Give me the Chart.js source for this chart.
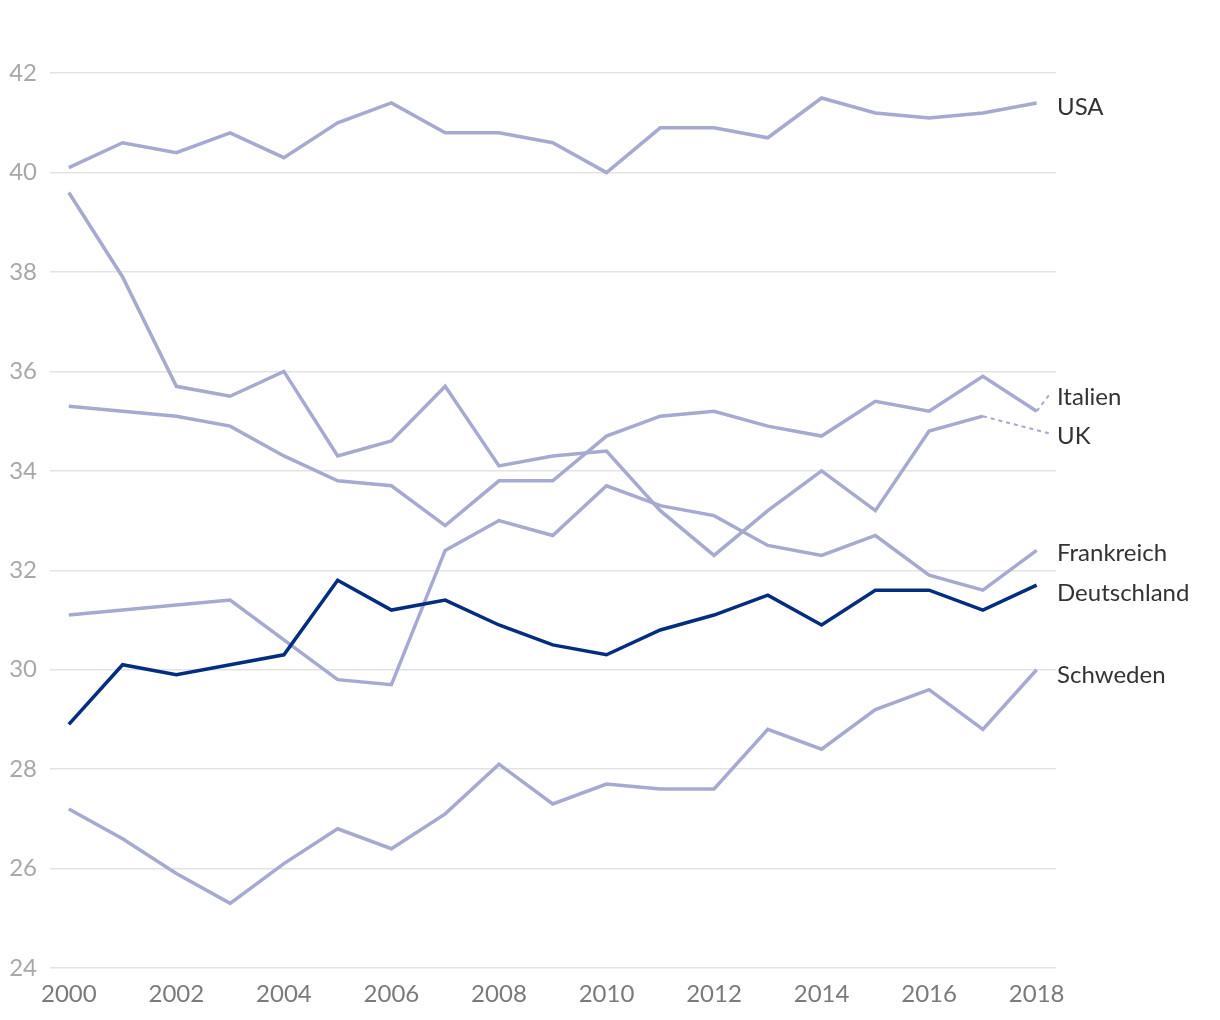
<!DOCTYPE html>
<html>
<head>
<meta charset="utf-8">
<script src="https://cdn.jsdelivr.net/npm/chart.js@4/dist/chart.umd.min.js"></script>
<style>
  html, body { margin: 0; padding: 0; background: #ffffff; }
  #wrap { width: 1220px; height: 1020px; position: relative; }
</style>
</head>
<body>
<div id="wrap"><canvas id="c" width="1220" height="1020"></canvas></div>
<script>
const years = [2000, 2001, 2002, 2003, 2004, 2005, 2006, 2007, 2008, 2009, 2010, 2011, 2012, 2013, 2014, 2015, 2016, 2017, 2018];
const xTicks = [2000, 2002, 2004, 2006, 2008, 2010, 2012, 2014, 2016, 2018];
const yTicks = [24, 26, 28, 30, 32, 34, 36, 38, 40, 42];

const deutschland = [28.9, 30.1, 29.9, 30.1, 30.3, 31.8, 31.2, 31.4, 30.9, 30.5, 30.3, 30.8, 31.1, 31.5, 30.9, 31.6, 31.6, 31.2, 31.7];
const usa         = [40.1, 40.6, 40.4, 40.8, 40.3, 41.0, 41.4, 40.8, 40.8, 40.6, 40.0, 40.9, 40.9, 40.7, 41.5, 41.2, 41.1, 41.2, 41.4];
const italien     = [35.3, 35.2, 35.1, 34.9, 34.3, 33.8, 33.7, 32.9, 33.8, 33.8, 34.7, 35.1, 35.2, 34.9, 34.7, 35.4, 35.2, 35.9, 35.2];
const uk          = [39.6, 37.9, 35.7, 35.5, 36.0, 34.3, 34.6, 35.7, 34.1, 34.3, 34.4, 33.2, 32.3, 33.2, 34.0, 33.2, 34.8, 35.1, null];
const frankreich  = [31.1, 31.2, 31.3, 31.4, 30.6, 29.8, 29.7, 32.4, 33.0, 32.7, 33.7, 33.3, 33.1, 32.5, 32.3, 32.7, 31.9, 31.6, 32.4];
const schweden    = [27.2, 26.6, 25.9, 25.3, 26.1, 26.8, 26.4, 27.1, 28.1, 27.3, 27.7, 27.6, 27.6, 28.8, 28.4, 29.2, 29.6, 28.8, 30.0];

const seriesNames = ['Deutschland', 'USA', 'Italien', 'UK', 'Frankreich', 'Schweden'];
const seriesValues = [deutschland, usa, italien, uk, frankreich, schweden];
// value at which each end label sits
const labelAnchors = [31.6, 41.38, 35.55, 34.75, 32.4, 29.95];
// which series get a dashed leader to their label
const leaderSeries = ['Italien', 'UK'];

const LIGHT = 'rgb(166,169,208)';
const DARK = 'rgb(3,46,128)';
const FONT = 'Lato, "DejaVu Sans", sans-serif';

const datasets = seriesNames.map((name, i) => ({
  label: name,
  data: years.map((y, j) => ({ x: y, y: seriesValues[i][j] })).filter(p => p.y !== null),
  borderColor: name === 'Deutschland' ? DARK : LIGHT,
  borderWidth: 3.5,
  pointRadius: 0,
  tension: 0,
  fill: false,
  order: name === 'Deutschland' ? 0 : 1
}));

const endLabels = {
  id: 'endLabels',
  afterDatasetsDraw(chart) {
    const ctx = chart.ctx;
    const xs = chart.scales.x, ys = chart.scales.y;
    const labelX = chart.chartArea.right + 1;
    ctx.save();
    seriesNames.forEach((name, i) => {
      const ay = ys.getPixelForValue(labelAnchors[i]);
      if (leaderSeries.includes(name)) {
        const vals = seriesValues[i];
        let k = vals.length - 1;
        while (vals[k] === null) k--;
        const px = xs.getPixelForValue(years[k]);
        const py = ys.getPixelForValue(vals[k]);
        ctx.beginPath();
        ctx.setLineDash([4, 4]);
        ctx.lineWidth = 2;
        ctx.strokeStyle = LIGHT;
        ctx.moveTo(px, py);
        ctx.lineTo(labelX - 7, ay);
        ctx.stroke();
        ctx.setLineDash([]);
      }
      ctx.fillStyle = '#333333';
      ctx.font = '24px ' + FONT;
      ctx.textAlign = 'left';
      ctx.textBaseline = 'middle';
      ctx.fillText(name, labelX, ay + 3);
    });
    ctx.restore();
  }
};

new Chart(document.getElementById('c'), {
  type: 'line',
  data: { datasets },
  options: {
    responsive: false,
    animation: false,
    events: [],
    layout: { padding: { top: 10, right: 164, left: 0, bottom: 0 } },
    plugins: { legend: { display: false }, tooltip: { enabled: false } },
    scales: {
      x: {
        type: 'linear',
        min: 1999.65,
        max: 2018.36,
        afterBuildTicks(scale) { scale.ticks = xTicks.map(v => ({ value: v })); },
        afterFit(scale) { scale.height = 52; },
        grid: { display: false, drawTicks: false },
        border: { display: false },
        ticks: {
          padding: 12,
          color: '#7a7a7a',
          font: { family: FONT, size: 24 },
          maxRotation: 0,
          autoSkip: false,
          callback: v => String(v)
        }
      },
      y: {
        min: 24,
        max: 42.92,
        afterBuildTicks(scale) { scale.ticks = yTicks.map(v => ({ value: v })); },
        afterFit(scale) { scale.width = 50; },
        grid: { color: '#e3e3e3', lineWidth: 1.5, drawTicks: false },
        border: { display: false },
        ticks: {
          padding: 13,
          color: '#a8a8a8',
          font: { family: FONT, size: 24 },
          callback: v => String(v)
        }
      }
    }
  },
  plugins: [endLabels]
});
</script>
</body>
</html>
